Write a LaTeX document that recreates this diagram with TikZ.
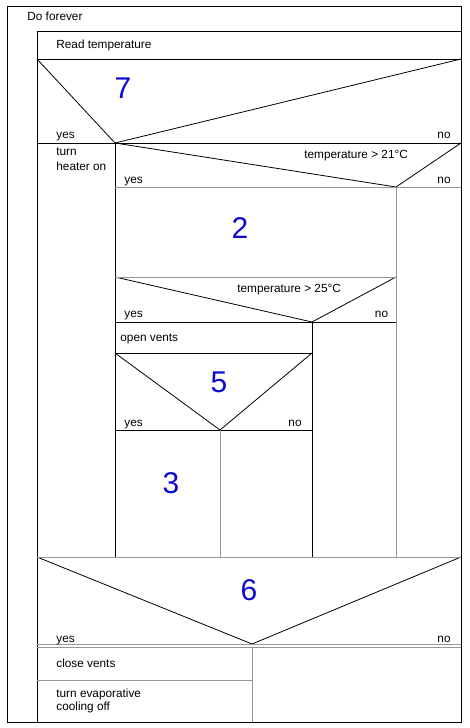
\documentclass[tikz,border=0pt]{standalone}
\usepackage{fontspec}
\setmainfont{Liberation Sans}
\usepackage{tikz}
\usepackage{xcolor}
\usetikzlibrary{positioning}
\definecolor{numblue}{RGB}{10,10,210}
\definecolor{sepgray}{RGB}{150,150,150}

\begin{document}
\begin{tikzpicture}
  [x=1pt,y=-1pt,line width=0.8pt,
   every node/.style={inner sep=0pt,anchor=base west,font=\fontsize{11.8}{14}\selectfont},
   right/.style={anchor=base east},
   num/.style={anchor=center,text=numblue,font=\fontsize{30}{32}\selectfont},
   sep/.style={draw=sepgray}]
  \useasboundingbox (0,0) rectangle (470,728);

  \draw (7,6) rectangle (461,722);
  \draw (37,31) rectangle (461,59);
  \draw (37,59) -- (37,722);

  \foreach \from/\to in {{37,59}/{115,143},{461,59}/{115,143},{37,143}/{461,143},
      {115,143}/{115,557},{115,143}/{396,187},{461,143}/{396,187},
      {115,277}/{312,322},{396,277}/{312,322},{115,322}/{396,322},
      {312,322}/{312,557},{115,353}/{312,353},
      {115,353}/{220,430},{312,353}/{220,430},{115,430}/{312,430},
      {37,557}/{252,644},{461,557}/{252,644}}
    \draw (\from) -- (\to);

  \foreach \from/\to in {{115,187}/{461,187},{396,187}/{396,557},{115,277}/{396,277},
      {220,430}/{220,557},{37,557}/{461,557},{37,644}/{461,644},{37,647}/{461,647},
      {252,647}/{252,722},{37,680}/{252,680}}
    \draw[sep] (\from) -- (\to);

  \node (dofor) at (27,20) {Do forever};
  \node (read) at (56,48) {Read temperature};
  \node (yes7) at (56,138) {yes};
  \node[right] (no7) at (451,138) {no};
  \node (heat1) at (56,155.5) {turn};
  \node (heat2) at (56,170) {heater on};
  \node (cond21) at (304,158) {temperature > 21°C};
  \node (yes21) at (124,183) {yes};
  \node[right] (no21) at (451,183) {no};
  \node (cond25) at (237,292) {temperature > 25°C};
  \node (yes25) at (124,317) {yes};
  \node[right] (no25) at (388.5,317) {no};
  \node (vents) at (120,341) {open vents};
  \node (yes5) at (124,426) {yes};
  \node[right] (no5) at (302,426) {no};
  \node (yes6) at (56,642) {yes};
  \node[right] (no6) at (451,642) {no};
  \node (close) at (56,667) {close vents};
  \node (evap1) at (56,697) {turn evaporative};
  \node (evap2) at (56,710) {cooling off};

  \node[num] (n7) at (123,88) {7};
  \node[num] (n2) at (240,228) {2};
  \node[num] (n5) at (219,382) {5};
  \node[num] (n3) at (171,483) {3};
  \node[num] (n6) at (249,590) {6};
\end{tikzpicture}
\end{document}
